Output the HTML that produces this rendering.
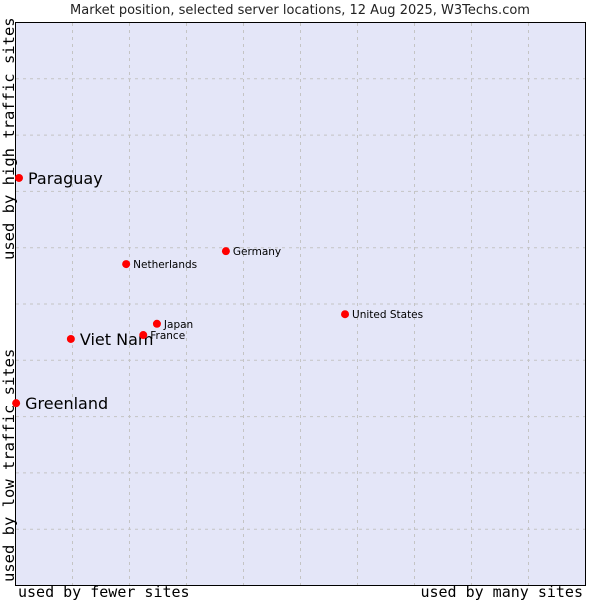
<!DOCTYPE html>
<html><head><meta charset="utf-8"><style>
body{margin:0;background:#fff;font-family:"DejaVu Sans","Liberation Sans",sans-serif}
</style></head><body>
<svg width="600" height="600">
<text x="300" y="14" text-anchor="middle" font-size="13" fill="#222" font-family="DejaVu Sans, sans-serif">Market position, selected server locations, 12 Aug 2025, W3Techs.com</text>
<rect x="15.5" y="22.5" width="570" height="563" fill="#e4e6f8" stroke="#000"/>
<g id="grid"></g>
<g id="pts"></g>
<text x="18" y="597" font-size="15" font-family="DejaVu Sans Mono, monospace" fill="#000">used by fewer sites</text>
<text x="583" y="597" text-anchor="end" font-size="15" font-family="DejaVu Sans Mono, monospace" fill="#000">used by many sites</text>
<text transform="translate(14,260) rotate(-90)" font-size="15.5" font-family="DejaVu Sans Mono, monospace" fill="#000">used by high traffic sites</text>
<text transform="translate(14,582) rotate(-90)" font-size="15.5" font-family="DejaVu Sans Mono, monospace" fill="#000">used by low traffic sites</text>
</svg>
<script>
const names=["Paraguay","Viet Nam","Greenland","Netherlands","Germany","Japan","France","United States"];
const xVals=[0.07,0.98,0.02,1.95,3.7,2.49,2.25,5.79];
const yVals=[7.23,4.37,3.23,5.70,5.93,4.64,4.44,4.81];
const big=[true,true,true,false,false,false,false,false];
const ticks=[1,2,3,4,5,6,7,8,9];
const X=v=>15+v*57, Y=v=>585-v*56.3;
const NS="http://www.w3.org/2000/svg";
const g=document.getElementById('grid');
ticks.forEach(t=>{
 let l=document.createElementNS(NS,'line');
 l.setAttribute('x1',X(t)+.5);l.setAttribute('x2',X(t)+.5);l.setAttribute('y1',23);l.setAttribute('y2',585);
 l.setAttribute('stroke','#c4c4c4');l.setAttribute('stroke-dasharray','3,4');
 
 
 g.appendChild(l);
 let h=document.createElementNS(NS,'line');
 h.setAttribute('y1',Y(t)+.5);h.setAttribute('y2',Y(t)+.5);h.setAttribute('x1',16);h.setAttribute('x2',585);
 h.setAttribute('stroke','#c4c4c4');h.setAttribute('stroke-dasharray','3,4');
 
 
 g.appendChild(h);
});
const p=document.getElementById('pts');
names.forEach((n,i)=>{
 const cx=X(xVals[i]),cy=Y(yVals[i]);
 let c=document.createElementNS(NS,'circle');
 c.setAttribute('cx',cx);c.setAttribute('cy',cy);c.setAttribute('r',4);c.setAttribute('fill','#f00');
 
 
 p.appendChild(c);
 let t=document.createElementNS(NS,'text');
 t.setAttribute('x',cx+(big[i]?9:7));t.setAttribute('y',cy+(big[i]?6:4));
 t.setAttribute('font-size',big[i]?16:10.5);t.setAttribute('fill','#000');
 t.textContent=n;
 
 
 p.appendChild(t);
});
</script>
</body></html>
